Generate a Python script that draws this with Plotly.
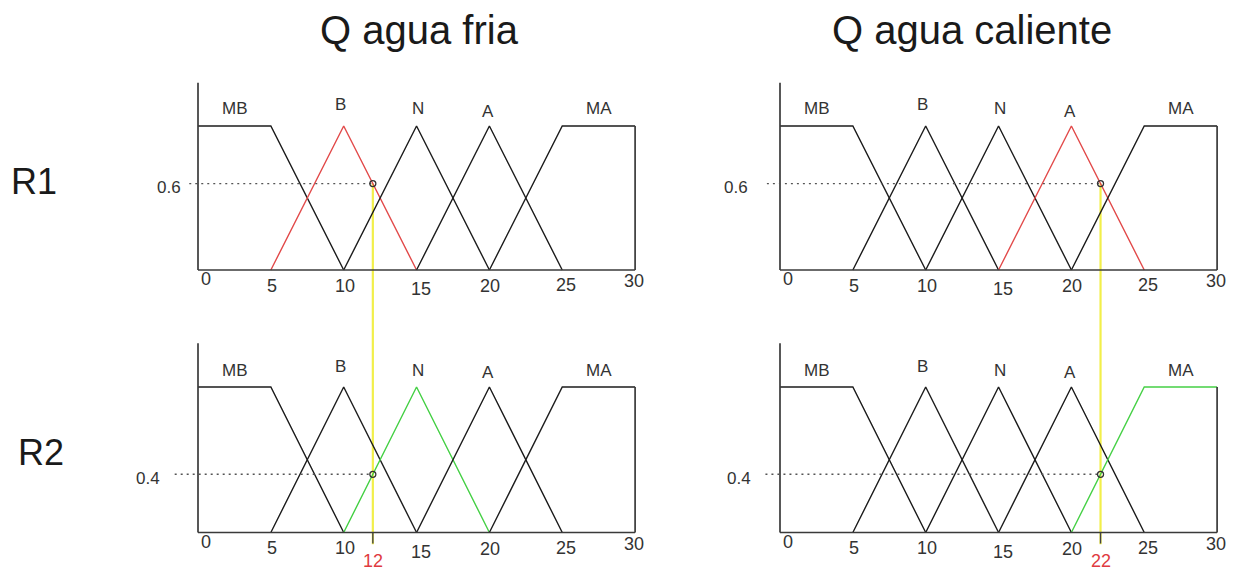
import plotly.graph_objects as go

# ---------------------------------------------------------------------------
# Fuzzy sets of both inputs (same partition of the 0..30 universe)
# ---------------------------------------------------------------------------
set_names = ["MB", "B", "N", "A", "MA"]
set_x = [
    [0, 5, 10],
    [5, 10, 15],
    [10, 15, 20],
    [15, 20, 25],
    [20, 25, 30],
]
set_y = [
    [1, 1, 0],
    [0, 1, 0],
    [0, 1, 0],
    [0, 1, 0],
    [0, 1, 1],
]
universe_ticks = [0, 5, 10, 15, 20, 25, 30]

variables = ["Q agua fria", "Q agua caliente"]
crisp_inputs = [12, 22]          # crisp value of each variable
rules = ["R1", "R2"]
# set fired by each rule for each variable, and its membership degree
fired_set = [["B", "A"], ["N", "MA"]]
fired_degree = [[0.6, 0.6], [0.4, 0.4]]
degree_labels = [["0.6", "0.6"], ["0.4", "0.4"]]

# ---------------------------------------------------------------------------
# Styling / layout
# ---------------------------------------------------------------------------
W, H = 1237, 573
FONT = "Liberation Sans, Arial, Helvetica, sans-serif"
INK = "#1c1c1c"
FRAME = "#3a3a3a"
TEXT = "#333333"
RULE_COLOR = ["#e24a4a", "#45d045"]
YELLOW = "#f2ef4a"

X_RANGE = [-2.0, 30.4]
Y_RANGE = [-0.08, 1.34]
AXIS_TOP = 1.3

COL_ZERO_PX = [198, 780]
PX_PER_X = 14.57
ROW_ZERO_PX = [270, 532.5]
PX_PER_Y = [144, 145.5]

guide_start = [[-0.6, -0.9], [-1.6, -1.0]]
degree_label_dx = [[-29, -44], [-50, -41]]   # pixels left of the y axis

set_label_xshift = [0.5, -3.5, 1.5, -1, 0]
set_label_yshift = [17, 21, 17, 14.5, 17]
tick_xshift = [8, 1, 1, 4, 1, 4, -1]
tick_yshift = [-9, -15.5, -15.5, -19, -16, -15, -11]


def x_domain(col):
    z = COL_ZERO_PX[col]
    return [(z + X_RANGE[0] * PX_PER_X) / W, (z + X_RANGE[1] * PX_PER_X) / W]


def y_domain(row):
    z = ROW_ZERO_PX[row]
    k = PX_PER_Y[row]
    return [1 - (z - Y_RANGE[0] * k) / H, 1 - (z - Y_RANGE[1] * k) / H]


def y_to_paper(row, v):
    d = y_domain(row)
    return d[0] + (v - Y_RANGE[0]) / (Y_RANGE[1] - Y_RANGE[0]) * (d[1] - d[0])


fig = go.Figure()
annotations = []
shapes = []
layout_axes = {}

for r in range(len(rules)):
    for c in range(len(variables)):
        p = r * 2 + c + 1
        xa = "x" if p == 1 else f"x{p}"
        ya = "y" if p == 1 else f"y{p}"
        xkey = "xaxis" if p == 1 else f"xaxis{p}"
        ykey = "yaxis" if p == 1 else f"yaxis{p}"
        layout_axes[xkey] = dict(domain=x_domain(c), range=X_RANGE, anchor=ya,
                                 visible=False, fixedrange=True)
        layout_axes[ykey] = dict(domain=y_domain(r), range=Y_RANGE, anchor=xa,
                                 visible=False, fixedrange=True)

        x_in = crisp_inputs[c]
        deg = fired_degree[r][c]

        # membership functions
        for name, sx, sy in zip(set_names, set_x, set_y):
            active = name == fired_set[r][c]
            fig.add_trace(go.Scatter(
                x=sx, y=sy, mode="lines", xaxis=xa, yaxis=ya,
                line=dict(color=RULE_COLOR[r] if active else INK, width=1.4),
                hoverinfo="skip", showlegend=False))

        # axis frame: left axis, bottom axis, right edge
        fig.add_trace(go.Scatter(
            x=[0, 0, None, 0, universe_ticks[-1], None, universe_ticks[-1], universe_ticks[-1]],
            y=[AXIS_TOP, 0, None, 0, 0, None, 0, 1],
            mode="lines", xaxis=xa, yaxis=ya,
            line=dict(color=FRAME, width=1.7),
            hoverinfo="skip", showlegend=False))

        # dotted guide to the membership degree
        fig.add_trace(go.Scatter(
            x=[guide_start[r][c], x_in], y=[deg, deg], mode="lines",
            xaxis=xa, yaxis=ya,
            line=dict(color="#555555", width=1.4, dash="2px,4px"),
            hoverinfo="skip", showlegend=False))

        # point on the fired set
        fig.add_trace(go.Scatter(
            x=[x_in], y=[deg], mode="markers", xaxis=xa, yaxis=ya,
            marker=dict(symbol="circle-open", size=6, color="#333333",
                        line=dict(width=1.3)),
            hoverinfo="skip", showlegend=False))

        # set names
        for name, sx, sy, dx, dy in zip(set_names, set_x, set_y,
                                        set_label_xshift, set_label_yshift):
            core = [xv for xv, yv in zip(sx, sy) if yv == 1]
            annotations.append(dict(
                x=sum(core) / len(core), y=1, xref=xa, yref=ya,
                text=name, showarrow=False, xshift=dx, yshift=dy,
                font=dict(family=FONT, size=17, color=TEXT)))

        # universe tick labels
        for t, dx, dy in zip(universe_ticks, tick_xshift, tick_yshift):
            annotations.append(dict(
                x=t, y=0, xref=xa, yref=ya, text=str(t), showarrow=False,
                xshift=dx, yshift=dy,
                font=dict(family=FONT, size=18, color=TEXT)))

        # membership degree label
        annotations.append(dict(
            x=0, y=deg, xref=xa, yref=ya,
            text=degree_labels[r][c], showarrow=False,
            xshift=degree_label_dx[r][c], yshift=-4,
            font=dict(family=FONT, size=17, color=TEXT)))

        if r == len(rules) - 1:
            # tick and red label for the crisp input
            fig.add_trace(go.Scatter(
                x=[x_in, x_in], y=[0, -0.075], mode="lines", xaxis=xa, yaxis=ya,
                line=dict(color="#444444", width=1.4),
                hoverinfo="skip", showlegend=False))
            annotations.append(dict(
                x=x_in, y=0, xref=xa, yref=ya, text=str(x_in), showarrow=False,
                yshift=-28, font=dict(family=FONT, size=18, color="#e03a40")))
            # yellow cut line across both rows of this column
            shapes.append(dict(
                type="line", xref=xa, yref="paper", x0=x_in, x1=x_in,
                y0=y_domain(r)[0], y1=y_to_paper(0, fired_degree[0][c]),
                line=dict(color=YELLOW, width=2.2), layer="below"))

# column titles and rule labels
title_x = [419.5, 972]
for c, name in enumerate(variables):
    annotations.append(dict(
        x=title_x[c] / W, y=1 - 30 / H, xref="paper", yref="paper",
        text=name, showarrow=False, xanchor="center", yanchor="middle",
        font=dict(family=FONT, size=40, color="#1a1a1a")))

rule_pos = [(34, 181), (41, 452)]
for (px, py), name in zip(rule_pos, rules):
    annotations.append(dict(
        x=px / W, y=1 - py / H, xref="paper", yref="paper",
        text=name, showarrow=False, xanchor="center", yanchor="middle",
        font=dict(family=FONT, size=36, color="#1a1a1a")))

fig.update_layout(
    width=W, height=H,
    margin=dict(l=0, r=0, t=0, b=0),
    paper_bgcolor="white",
    plot_bgcolor="rgba(0,0,0,0)",
    showlegend=False,
    annotations=annotations,
    shapes=shapes,
    **layout_axes,
)

fig.write_html("out.html", config={"displayModeBar": False})
